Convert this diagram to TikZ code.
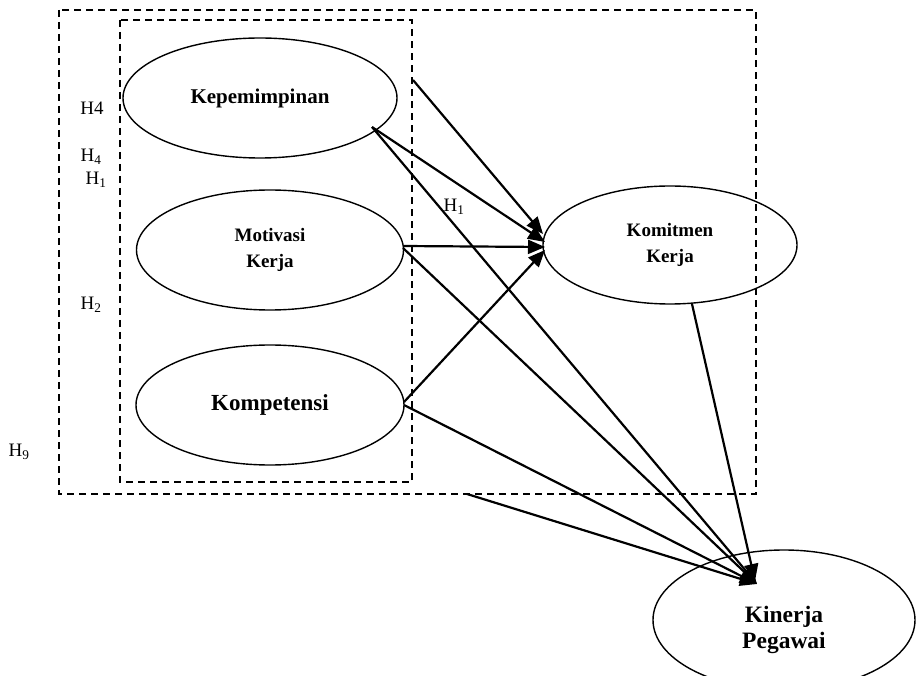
\documentclass[tikz,border=0pt]{standalone}
\usepackage{fontspec}
\setmainfont{Liberation Serif}
\usetikzlibrary{shapes.geometric,arrows.meta}

\tikzset{
  construct/.style={draw, ellipse, line width=1.4pt, inner sep=0pt, align=center, font=\bfseries},
  groupbox/.style={draw, line width=1.5pt, dash pattern=on 7pt off 5pt},
  path/.style={draw, line width=2.2pt, -{Triangle[length=17pt,width=14pt]}},
  hyp/.style={font=\fontsize{19}{19}\selectfont, inner sep=0pt}
}

\begin{document}
\begin{tikzpicture}[x=1pt,y=-1pt]
\useasboundingbox (0,0) rectangle (916,676);

% grouping frames
\draw[groupbox] (59,10) rectangle (756,494);
\draw[groupbox] (120,20) rectangle (412,482);

% constructs
\node[construct, minimum width=274pt, minimum height=120pt, font=\bfseries\fontsize{21}{24}\selectfont]
  (kep) at (260,98) {Kepemimpinan};
\node[construct, minimum width=267pt, minimum height=120pt, font=\bfseries\fontsize{19}{26}\selectfont]
  (mot) at (270,250) {Motivasi\\ Kerja};
\node[construct, minimum width=268pt, minimum height=120pt, font=\bfseries\fontsize{23}{26}\selectfont]
  (komp) at (270,405) {Kompetensi};
\node[construct, minimum width=254pt, minimum height=118pt, font=\bfseries\fontsize{19}{26}\selectfont]
  (kom) at (670,245) {Komitmen\\ Kerja};
\node[construct, minimum width=262pt, minimum height=140pt]
  (kin) at (784,620) {};
\node[font=\bfseries\fontsize{23.5}{26}\selectfont, align=center, inner sep=0pt] (kintext) at (784,630) {Kinerja\\ Pegawai};

% connector ends
\coordinate (grp-out) at (413,80);
\coordinate (kep-out) at (372,127);
\coordinate (mot-out1) at (403,246);
\coordinate (mot-out2) at (403,248);
\coordinate (komp-out1) at (404,402);
\coordinate (komp-out2) at (404,405);
\coordinate (grp-low) at (467,494);
\coordinate (kom-out) at (692,304);
\coordinate (kom-in1) at (543,234);
\coordinate (kom-in2) at (545,242);
\coordinate (kom-in3) at (545,247);
\coordinate (kom-in4) at (545,250);
\coordinate (kin-in) at (757,584);
\coordinate (kin-in2) at (755,581);

% paths
\draw[path] (grp-out) -- (kom-in1);
\draw[path] (kep-out) -- (kom-in2);
\draw[path] (mot-out1) -- (kom-in3);
\draw[path] (komp-out1) -- (kom-in4);
\draw[path] (kep-out) -- (kin-in);
\draw[path] (mot-out2) -- (kin-in);
\draw[path] (komp-out2) -- (kin-in);
\draw[path] (grp-low) -- (kin-in);
\draw[path] (kom-out) -- (kin-in2);

% hypothesis labels
\node[hyp] (h4a) at (92,108) {H4};
\node[hyp] (h4b) at (91,157) {H\textsubscript{4}};
\node[hyp] (h1a) at (96,180) {H\textsubscript{1}};
\node[hyp] (h2) at (91,305) {H\textsubscript{2}};
\node[hyp] (h9) at (19,452) {H\textsubscript{9}};
\node[hyp] (h1b) at (454,207) {H\textsubscript{1}};
\end{tikzpicture}
\end{document}
